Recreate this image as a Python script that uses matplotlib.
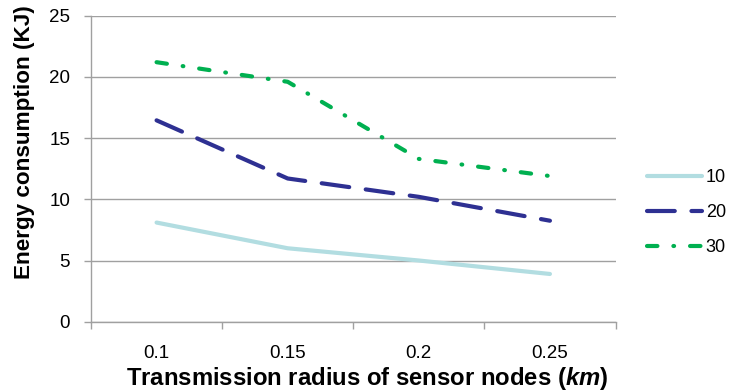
import matplotlib.pyplot as plt

plt.rcParams['font.family'] = ['Liberation Sans', 'DejaVu Sans']
plt.rcParams['mathtext.fontset'] = 'custom'
plt.rcParams['mathtext.bfit'] = 'Liberation Sans:bold:italic'
plt.rcParams['lines.scale_dashes'] = False

# transmission radius (km) on the category axis
radius = ['0.1', '0.15', '0.2', '0.25']
series_names = ['10', '20', '30']
energy_10 = [8.1, 6.0, 5.0, 3.9]
energy_20 = [16.45, 11.7, 10.2, 8.25]
energy_30 = [21.2, 19.6, 13.3, 11.9]

colors = ['#B2DDE1', '#2E3092', '#00B050']
styles = [dict(linestyle='-', linewidth=3.0),
          dict(linestyle=(0, (20, 12)), linewidth=3.0),
          dict(linestyle=(0, (7.5, 11.5, 0.5, 11.5)), linewidth=3.0)]

fig = plt.figure(figsize=(7.31, 3.92), dpi=100)
ax = fig.add_axes([0.1245, 0.1793, 0.7175, 0.7807])

xpos = [i + 0.5 for i in range(len(radius))]
handles = []
for name, vals, c, st in zip(series_names, [energy_10, energy_20, energy_30], colors, styles):
    h, = ax.plot(xpos, vals, color=c, label=name, dash_capstyle='round',
                 solid_capstyle='round', **st)
    handles.append(h)

ax.set_xlim(0, len(radius))
ax.set_ylim(0, 25)
ax.set_yticks(range(0, 26, 5))
ax.yaxis.grid(True, color='#A0A0A0', linewidth=1.0)
ax.set_axisbelow(True)

# category boundaries as outward ticks, labels centred between them
ax.set_xticks(range(len(radius) + 1))
ax.set_xticklabels([])
ax.set_xticks(xpos, minor=True)
ax.set_xticklabels(radius, minor=True)
ax.tick_params(axis='x', which='major', direction='out', length=5, color='#A0A0A0', width=1)
ax.tick_params(axis='x', which='minor', length=0, pad=17, labelsize=13.5)
ax.tick_params(axis='y', direction='out', length=5, color='#A0A0A0', width=1, pad=10, labelsize=13.5)

for side in ['top', 'right']:
    ax.spines[side].set_visible(False)
for side in ['left', 'bottom']:
    ax.spines[side].set_color('#A0A0A0')
    ax.spines[side].set_linewidth(1.0)

ax.set_ylabel('Energy consumption (KJ)', fontsize=16.2, fontweight='bold', labelpad=10)
ax.yaxis.label.set_y(0.586)
ax.set_xlabel(r'Transmission radius of sensor nodes ($\bfit{km}$)', fontsize=17.2,
              fontweight='bold', labelpad=2)
ax.xaxis.label.set_x(0.527)

fig.legend(handles=handles, loc='center left', bbox_to_anchor=(0.8847, 0.457), frameon=False,
           borderpad=0, borderaxespad=0, handlelength=3.05, handletextpad=0.22,
           labelspacing=1.0, fontsize=13)

fig.savefig('out.png', dpi=100)
